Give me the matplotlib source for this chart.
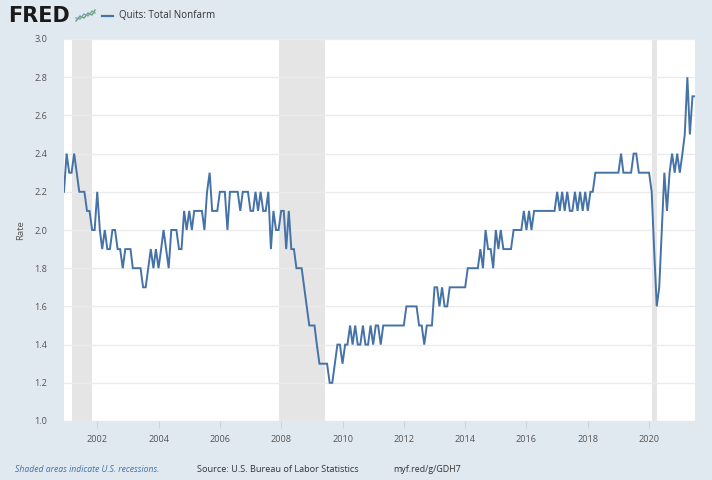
import matplotlib.pyplot as plt
import matplotlib.dates as mdates
from matplotlib.lines import Line2D
import pandas as pd

# Quits: Total Nonfarm, monthly rate, Dec 2000 .. Jul 2021
start_month = "2000-12-01"
quits_rate = [
    2.2,
    2.4, 2.3, 2.3, 2.4, 2.3, 2.2, 2.2, 2.2, 2.1, 2.1, 2.0, 2.0,  # 2001
    2.2, 2.0, 1.9, 2.0, 1.9, 1.9, 2.0, 2.0, 1.9, 1.9, 1.8, 1.9,  # 2002
    1.9, 1.9, 1.8, 1.8, 1.8, 1.8, 1.7, 1.7, 1.8, 1.9, 1.8, 1.9,  # 2003
    1.8, 1.9, 2.0, 1.9, 1.8, 2.0, 2.0, 2.0, 1.9, 1.9, 2.1, 2.0,  # 2004
    2.1, 2.0, 2.1, 2.1, 2.1, 2.1, 2.0, 2.2, 2.3, 2.1, 2.1, 2.1,  # 2005
    2.2, 2.2, 2.2, 2.0, 2.2, 2.2, 2.2, 2.2, 2.1, 2.2, 2.2, 2.2,  # 2006
    2.1, 2.1, 2.2, 2.1, 2.2, 2.1, 2.1, 2.2, 1.9, 2.1, 2.0, 2.0,  # 2007
    2.1, 2.1, 1.9, 2.1, 1.9, 1.9, 1.8, 1.8, 1.8, 1.7, 1.6, 1.5,  # 2008
    1.5, 1.5, 1.4, 1.3, 1.3, 1.3, 1.3, 1.2, 1.2, 1.3, 1.4, 1.4,  # 2009
    1.3, 1.4, 1.4, 1.5, 1.4, 1.5, 1.4, 1.4, 1.5, 1.4, 1.4, 1.5,  # 2010
    1.4, 1.5, 1.5, 1.4, 1.5, 1.5, 1.5, 1.5, 1.5, 1.5, 1.5, 1.5,  # 2011
    1.5, 1.6, 1.6, 1.6, 1.6, 1.6, 1.5, 1.5, 1.4, 1.5, 1.5, 1.5,  # 2012
    1.7, 1.7, 1.6, 1.7, 1.6, 1.6, 1.7, 1.7, 1.7, 1.7, 1.7, 1.7,  # 2013
    1.7, 1.8, 1.8, 1.8, 1.8, 1.8, 1.9, 1.8, 2.0, 1.9, 1.9, 1.8,  # 2014
    2.0, 1.9, 2.0, 1.9, 1.9, 1.9, 1.9, 2.0, 2.0, 2.0, 2.0, 2.1,  # 2015
    2.0, 2.1, 2.0, 2.1, 2.1, 2.1, 2.1, 2.1, 2.1, 2.1, 2.1, 2.1,  # 2016
    2.2, 2.1, 2.2, 2.1, 2.2, 2.1, 2.1, 2.2, 2.1, 2.2, 2.1, 2.2,  # 2017
    2.1, 2.2, 2.2, 2.3, 2.3, 2.3, 2.3, 2.3, 2.3, 2.3, 2.3, 2.3,  # 2018
    2.3, 2.4, 2.3, 2.3, 2.3, 2.3, 2.4, 2.4, 2.3, 2.3, 2.3, 2.3,  # 2019
    2.3, 2.2, 1.9, 1.6, 1.7, 2.0, 2.3, 2.1, 2.3, 2.4, 2.3, 2.4,  # 2020
    2.3, 2.4, 2.5, 2.8, 2.5, 2.7, 2.7,                           # 2021
]
recessions = [("2001-03-01", "2001-11-01"),
              ("2007-12-01", "2009-06-01"),
              ("2020-02-01", "2020-04-01")]
year_ticks = list(range(2002, 2021, 2))
rate_ticks = [1.0, 1.2, 1.4, 1.6, 1.8, 2.0, 2.2, 2.4, 2.6, 2.8, 3.0]

series_name = "Quits: Total Nonfarm"
y_label = "Rate"
note_text = "Shaded areas indicate U.S. recessions."
source_text = "Source: U.S. Bureau of Labor Statistics"
link_text = "myf.red/g/GDH7"

BG = "#e1e9f0"
LINE = "#4572a7"
TXT = "#555555"

dates = pd.date_range(start_month, periods=len(quits_rate), freq="MS")

fig = plt.figure(figsize=(7.12, 4.8), dpi=100, facecolor=BG)
W, H = 712, 480
ax = fig.add_axes([64 / W, 1 - 421 / H, (695 - 64) / W, (421 - 39) / H])
ax.set_facecolor("white")

for start, end in recessions:
    ax.axvspan(pd.Timestamp(start), pd.Timestamp(end), color="#e5e5e5", lw=0, zorder=1)

ax.plot(dates, quits_rate, color=LINE, lw=1.4, zorder=3, solid_joinstyle="miter")

ax.set_xlim(dates[0], dates[-1])
ax.set_ylim(rate_ticks[0], rate_ticks[-1])
ax.set_yticks(rate_ticks)
ax.set_yticklabels(["%.1f" % v for v in rate_ticks])
ax.set_xticks([pd.Timestamp("%d-01-01" % y) for y in year_ticks])
ax.xaxis.set_major_formatter(mdates.DateFormatter("%Y"))
ax.grid(axis="y", color="#ebebeb", lw=1.0, zorder=2)
ax.set_axisbelow(False)
for s in ax.spines.values():
    s.set_visible(False)

tick_family = ["Open Sans", "DejaVu Sans"]
for lab in ax.get_xticklabels() + ax.get_yticklabels():
    lab.set_fontfamily(tick_family)
    lab.set_fontsize(6.6)
    lab.set_color(TXT)
ax.tick_params(axis="y", length=0, pad=12)
ax.tick_params(axis="x", length=5, width=0.8, color="#c8d4e0", pad=5)
ax.set_ylabel(y_label, fontsize=6.8, color=TXT, family=tick_family, labelpad=7)

# header: logo + legend
fig.text(8 / W, 1 - 16 / H, "FRED", fontsize=15, fontweight="bold", color="#1a1a1a",
         family=["DejaVu Sans"], va="center", ha="left")
icon = [
    Line2D([76 / W, 80 / W, 84 / W, 88 / W, 92 / W, 95 / W],
           [1 - 21 / H, 1 - 16 / H, 1 - 18 / H, 1 - 13 / H, 1 - 15 / H, 1 - 10 / H],
           color="#6aa84f", lw=1.0, transform=fig.transFigure),
    Line2D([76 / W, 80 / W, 84 / W, 88 / W, 92 / W, 95 / W],
           [1 - 18 / H, 1 - 19 / H, 1 - 14 / H, 1 - 16 / H, 1 - 11 / H, 1 - 13 / H],
           color="#7aa0c8", lw=1.0, transform=fig.transFigure),
]
for ln in icon:
    fig.add_artist(ln)
fig.add_artist(Line2D([102 / W, 113 / W], [1 - 16 / H, 1 - 16 / H], color=LINE, lw=1.6,
                      transform=fig.transFigure))
fig.text(119 / W, 1 - 16 / H, series_name, fontsize=7.0, color="#333333",
         family=tick_family, va="center", ha="left")

# footer
foot_font = ["Liberation Sans Narrow", "Open Sans", "DejaVu Sans"]
fig.text(15 / W, 1 - 470 / H, note_text, fontsize=6.2, color=LINE, style="italic",
         family=foot_font, va="center", ha="left")
fig.text(197 / W, 1 - 470 / H, source_text, fontsize=6.6, color="#333333",
         family=foot_font, va="center", ha="left")
fig.text(393 / W, 1 - 470 / H, link_text, fontsize=6.4, color="#333333",
         family=foot_font, va="center", ha="left")

fig.savefig("out.png", dpi=100, facecolor=BG)
